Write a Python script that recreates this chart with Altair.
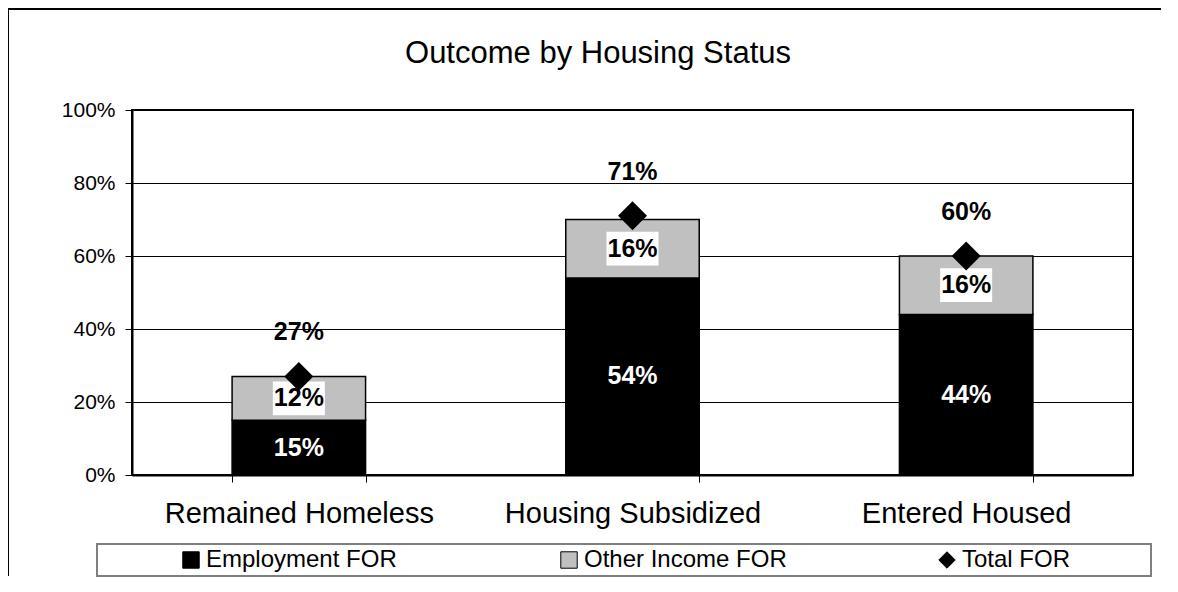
import altair as alt
import pandas as pd

categories = ["Remained Homeless", "Housing Subsidized", "Entered Housed"]
employment = [0.15, 0.54, 0.44]
other_income = [0.12, 0.16, 0.16]
total = [0.27, 0.71, 0.60]
series = ["Employment FOR", "Other Income FOR", "Total FOR"]
colors = ["#000000", "#c0c0c0", "#000000"]
shapes = ["square", "square", "diamond"]
y_ticks = [0, 0.2, 0.4, 0.6, 0.8, 1.0]
title_text = "Outcome by Housing Status"

FONT = "Liberation Sans"

rows = []
for c, e, o in zip(categories, employment, other_income):
    rows.append({"cat": c, "series": series[0], "y0": 0.0, "y1": e, "v": e})
    rows.append({"cat": c, "series": series[1], "y0": e, "y1": e + o, "v": o})
bars_df = pd.DataFrame(rows)
bars_df["mid"] = (bars_df["y0"] + bars_df["y1"]) / 2
tot_df = pd.DataFrame({"cat": categories, "series": series[2], "v": total})
one = pd.DataFrame({"k": [0]})

x_enc = alt.X(
    "cat:N",
    sort=categories,
    scale=alt.Scale(paddingInner=0.6, paddingOuter=0.3),
    axis=alt.Axis(
        title=None, labelAngle=0, labelFontSize=29, labelFont=FONT, labelColor="black",
        labelLimit=0, tickBand="extent", tickSize=7, tickColor="black", labelPadding=17,
        domainWidth=2, domainColor="black",
    ),
)
y_scale = alt.Scale(domain=[0, 1])

legend_props = dict(
    title=None, orient="none", legendX=47, legendY=438, direction="horizontal",
    columns=3, gridAlign="all", columnPadding=148, symbolSize=270,
    labelFontSize=24, labelFont=FONT, labelColor="black", labelOffset=3, labelLimit=0,
    symbolStrokeColor="black", symbolStrokeWidth=1, padding=0,
)
color_enc = alt.Color(
    "series:N",
    scale=alt.Scale(domain=series, range=colors),
    legend=alt.Legend(**legend_props),
)
shape_enc = alt.Shape(
    "series:N",
    scale=alt.Scale(domain=series, range=shapes),
    legend=alt.Legend(**legend_props),
)

legend_box = alt.Chart(one).mark_rect(fill="white", stroke="#7f7f7f", strokeWidth=2).encode(
    x=alt.value(-35), x2=alt.value(1019), y=alt.value(434), y2=alt.value(466)
)
# outer chart frame (top and left edges only, as in the cropped original) drawn as one L-shaped path
frame = alt.Chart(one).mark_point(
    shape="M-125,-102H1029V-100H-123V466H-125Z", size=4, filled=True,
    fill="black", opacity=1, strokeWidth=0,
).encode(x=alt.value(0), y=alt.value(0))
title = alt.Chart(one).mark_text(
    text=title_text, font=FONT, fontSize=31, color="black", align="center", baseline="alphabetic"
).encode(x=alt.value(466), y=alt.value(-47))

bars = alt.Chart(bars_df).mark_bar(stroke="black", strokeWidth=1.5).encode(
    x=x_enc,
    y=alt.Y(
        "y1:Q", scale=y_scale,
        axis=alt.Axis(
            title=None, format="%", values=y_ticks, grid=True, gridColor="black", gridWidth=1,
            labelFontSize=21, labelFont=FONT, labelColor="black", labelPadding=10,
            tickSize=7, tickColor="black", domainWidth=2, domainColor="black",
        ),
    ),
    y2="y0:Q",
    color=color_enc,
)

emp_text = alt.Chart(bars_df).transform_filter(alt.datum.series == series[0]).mark_text(
    font=FONT, fontSize=25, fontWeight="bold", color="white", baseline="middle"
).encode(x=alt.X("cat:N", sort=categories), y=alt.Y("mid:Q", scale=y_scale), text=alt.Text("v:Q", format=".0%"))

oth_bg = alt.Chart(bars_df).transform_filter(alt.datum.series == series[1]).mark_point(
    shape="M-1,-0.65L1,-0.65L1,0.65L-1,0.65Z", size=2704, filled=True, fill="white", opacity=1, strokeWidth=0
).encode(x=alt.X("cat:N", sort=categories), y=alt.Y("mid:Q", scale=y_scale))

oth_text = alt.Chart(bars_df).transform_filter(alt.datum.series == series[1]).mark_text(
    font=FONT, fontSize=25, fontWeight="bold", color="black", baseline="middle"
).encode(x=alt.X("cat:N", sort=categories), y=alt.Y("mid:Q", scale=y_scale), text=alt.Text("v:Q", format=".0%"))

tot_pts = alt.Chart(tot_df).mark_point(filled=True, size=841, opacity=1).encode(
    x=alt.X("cat:N", sort=categories), y=alt.Y("v:Q", scale=y_scale), color=color_enc, shape=shape_enc
)
tot_text = alt.Chart(tot_df).mark_text(
    font=FONT, fontSize=25, fontWeight="bold", color="black", baseline="middle", dy=-44
).encode(x=alt.X("cat:N", sort=categories), y=alt.Y("v:Q", scale=y_scale), text=alt.Text("v:Q", format=".0%"))

chart = alt.layer(
    frame, legend_box, title, bars, emp_text, oth_bg, oth_text, tot_pts, tot_text
).properties(
    width=1001, height=365,
    autosize=alt.AutoSizeParams(type="none"),
    padding={"left": 124, "top": 102, "right": 29, "bottom": 109},
    background="white",
).configure_view(stroke="black", strokeWidth=2)

chart.save("out.html", embed_options={"renderer": "svg", "actions": False})
